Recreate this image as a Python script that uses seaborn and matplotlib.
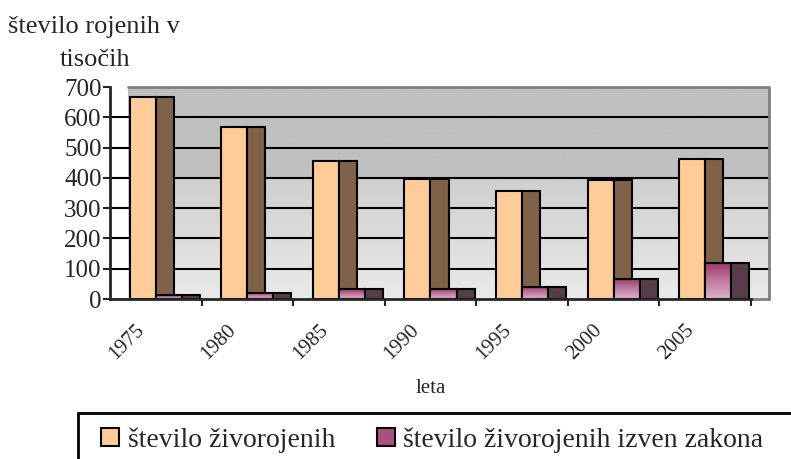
import numpy as np
import pandas as pd
import matplotlib
matplotlib.use('Agg')
import matplotlib.pyplot as plt
import matplotlib.transforms as mtrans
from matplotlib.patches import Patch, Rectangle
from matplotlib.colors import LinearSegmentedColormap
import seaborn as sns

# data (thousands)
years = ['1975', '1980', '1985', '1990', '1995', '2000', '2005']
zivorojeni = [668, 568, 455, 397, 358, 392, 462]
izven_zakona = [13, 21, 32, 34, 40, 67, 120]
series = ['število živorojenih', 'število živorojenih izven zakona']

df = pd.DataFrame({
    'leto': years * 2,
    'serija': [series[0]] * len(years) + [series[1]] * len(years),
    'vrednost': zivorojeni + izven_zakona,
})

sns.set_style('white')
plt.rcParams['font.family'] = ['Liberation Serif', 'DejaVu Serif']

W, H = 791, 459
fig = plt.figure(figsize=(W / 100, H / 100), dpi=100)
depth = 18 / 91.57  # 3d depth in category units
ax = fig.add_axes([110 / W, (H - 299) / H, 659 / W, 212 / H])

# back wall with vertical gradient
yy = np.arange(700)
shade = np.where(yy < 400, 0xEA - (0xEA - 0xCF) * yy / 400, 0xC0) / 255
wall = np.repeat(shade[::-1, None, None], 3, axis=2)
ax.imshow(wall, extent=[-0.5 + depth, 6.5 + depth, 0, 700], aspect='auto', zorder=0)
ax.plot([-0.5 + depth, 6.5 + depth, 6.5 + depth], [700, 700, 0], color='#808080', lw=2, zorder=1,
        clip_on=False)
ax.plot([6.5, 6.5 + depth], [0, 0], color='#808080', lw=2, zorder=1, clip_on=False)
for v in range(100, 700, 100):
    ax.axhline(v, color='black', lw=1.5, zorder=0.5)

# front faces
sns.barplot(data=df, x='leto', y='vrednost', hue='serija', order=years, hue_order=series,
            palette=['#ffcc99', '#b8608f'], saturation=1, width=0.57, edgecolor='black',
            linewidth=1.5, errorbar=None, legend=False, ax=ax, zorder=2)

x = np.arange(len(years))
bw = 0.285
# side faces
ax.bar(x, zivorojeni, width=depth, align='edge', color='#806248', edgecolor='black',
       linewidth=1.5, zorder=2.5)

pink = LinearSegmentedColormap.from_list('pink', ['#dcb2cc', '#c07aa2', '#963563'])
for p in ax.patches[:]:
    if abs(p.get_x() - round(p.get_x())) < 1e-6 and abs(p.get_width() - bw) < 1e-6:
        x0, w, h = p.get_x(), p.get_width(), p.get_height()
        grad = np.linspace(0, 1, 100).reshape(-1, 1)
        im = ax.imshow(grad, extent=[x0, x0 + w, 0, h], cmap=pink, origin='lower',
                       aspect='auto', zorder=3.1)
        im.set_clip_path(p)
        p.set_facecolor('none')
        p.set_zorder(3.2)

ax.bar(x + bw, izven_zakona, width=depth, align='edge', color='#573c4a', edgecolor='black',
       linewidth=1.5, zorder=3.3)
ax.set_xlim(-0.5, 6.5 + depth)
ax.set_ylim(0, 700)

# axes
sns.despine(ax=ax, top=True, right=True)
ax.spines['left'].set_linewidth(2)
ax.spines['bottom'].set_linewidth(2)
ax.spines['bottom'].set_bounds(-0.5, 6.5)
ax.spines['left'].set_zorder(4)
ax.spines['bottom'].set_zorder(4)
ax.set_yticks(range(0, 701, 100))
ax.tick_params(axis='y', left=True, length=5, width=1.5, pad=1, labelsize=18, direction='out')
ax.set_xticks(x)
ax.set_xticklabels(years, rotation=45, ha='right', va='center', rotation_mode='anchor')
ax.set_xticks(np.arange(0.5, 7, 1), minor=True)
ax.tick_params(axis='x', which='major', length=0, pad=0, labelsize=15)
ax.tick_params(axis='x', which='minor', bottom=True, length=5, width=1.5, direction='out')
off = mtrans.ScaledTranslation(-0.14, -0.28, fig.dpi_scale_trans)
for lab in ax.get_xticklabels():
    lab.set_transform(lab.get_transform() + off)
ax.set_xlabel('')
ax.set_ylabel('')

fig.text(8 / W, 1 - 27 / H, 'število rojenih v', fontsize=19, va='center', ha='left')
fig.text(60 / W, 1 - 60 / H, 'tisočih', fontsize=19, va='center', ha='left')
fig.text(431 / W, 1 - 393 / H, 'leta', fontsize=15, va='baseline', ha='center')

# legend
fig.patches.append(Rectangle((78 / W, -0.1), 1.0, 0.1 + (H - 413) / H, transform=fig.transFigure,
                             facecolor='none', edgecolor='black', lw=2))
handles = [Patch(facecolor='#ffcc99', edgecolor='black', lw=1.5),
           Patch(facecolor='#a8507f', edgecolor='black', lw=1.5)]
fig.legend(handles, series, loc='center left', bbox_to_anchor=(90 / W, 1 - 440 / H), ncol=2,
           frameon=False, fontsize=20, handlelength=0.65, handleheight=0.65,
           handletextpad=0.3, columnspacing=1.5, borderaxespad=0)

fig.savefig('out.png', dpi=100)
